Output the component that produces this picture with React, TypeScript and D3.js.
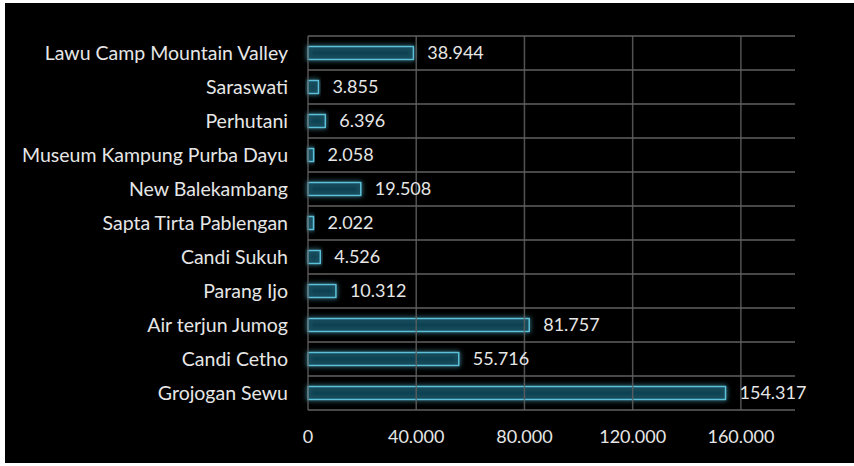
import React from "react";
import * as d3 from "d3";

const categories = [
  "Lawu Camp Mountain Valley",
  "Saraswati",
  "Perhutani",
  "Museum Kampung Purba Dayu",
  "New Balekambang",
  "Sapta Tirta Pablengan",
  "Candi Sukuh",
  "Parang Ijo",
  "Air terjun Jumog",
  "Candi Cetho",
  "Grojogan Sewu",
];
const values = [38944, 3855, 6396, 2058, 19508, 2022, 4526, 10312, 81757, 55716, 154317];
const xTicks = [0, 40000, 80000, 120000, 160000];

const W = 854;
const H = 466;
const FONT = "Lato, 'Open Sans', sans-serif";

const fmt = (v: number) => d3.format(",")(v).replace(/,/g, ".");

export default function App() {
  const x = d3.scaleLinear().domain([0, 180000]).range([308, 795]);
  const y = d3.scaleBand<string>().domain(categories).range([36, 410]).paddingInner(0.62).paddingOuter(0.31);
  const bands = d3.scaleBand<string>().domain(categories).range([36, 410]);
  const barH = y.bandwidth();

  return (
    <svg width={W} height={H} style={{ position: "absolute", left: 0, top: 0, background: "#fff" }}>
      <defs>
        <filter id="glow" x="-20%" y="-100%" width="140%" height="300%">
          <feGaussianBlur in="SourceGraphic" stdDeviation="2.5" result="b" />
          <feMerge>
            <feMergeNode in="b" />
            <feMergeNode in="SourceGraphic" />
          </feMerge>
        </filter>
      </defs>
      <rect x={5} y={3} width={W - 5} height={460} fill="#000" />
      {/* bars */}
      {categories.map((c, i) => (
        <rect
          key={"b" + c}
          x={x(0)}
          y={y(c)!}
          width={x(values[i]) - x(0)}
          height={barH}
          fill="#0d4658"
          fillOpacity={0.75}
          stroke="#5cc0d8"
          strokeWidth={1.5}
          filter="url(#glow)"
        />
      ))}
      {/* horizontal row separators */}
      {categories.map((c) => (
        <line key={"h" + c} x1={308} x2={795} y1={bands(c)!} y2={bands(c)!} stroke="#606060" strokeWidth={1.5} />
      ))}
      <line x1={308} x2={795} y1={410} y2={410} stroke="#606060" strokeWidth={1.5} />
      {/* vertical gridlines */}
      {xTicks.map((t) => (
        <line key={"v" + t} x1={x(t)} x2={x(t)} y1={36} y2={410} stroke="#606060" strokeOpacity={0.85} strokeWidth={1.5} />
      ))}
      {/* value labels */}
      {categories.map((c, i) => (
        <text
          key={"v" + c}
          x={x(values[i]) + 14}
          y={y(c)! + barH / 2}
          dy="0.35em"
          fill="#e6e6e6"
          fontFamily={FONT}
          fontSize={18}
        >
          {fmt(values[i])}
        </text>
      ))}
      {/* category labels */}
      {categories.map((c) => (
        <text
          key={"c" + c}
          x={288}
          y={bands(c)! + bands.bandwidth() / 2}
          dy="0.35em"
          textAnchor="end"
          fill="#e6e6e6"
          fontFamily={FONT}
          fontSize={19.5}
        >
          {c}
        </text>
      ))}
      {/* x tick labels */}
      {xTicks.map((t) => (
        <text
          key={"t" + t}
          x={x(t)}
          y={437}
          dy="0.35em"
          textAnchor="middle"
          fill="#e6e6e6"
          fontFamily={FONT}
          fontSize={18}
        >
          {fmt(t)}
        </text>
      ))}
    </svg>
  );
}
